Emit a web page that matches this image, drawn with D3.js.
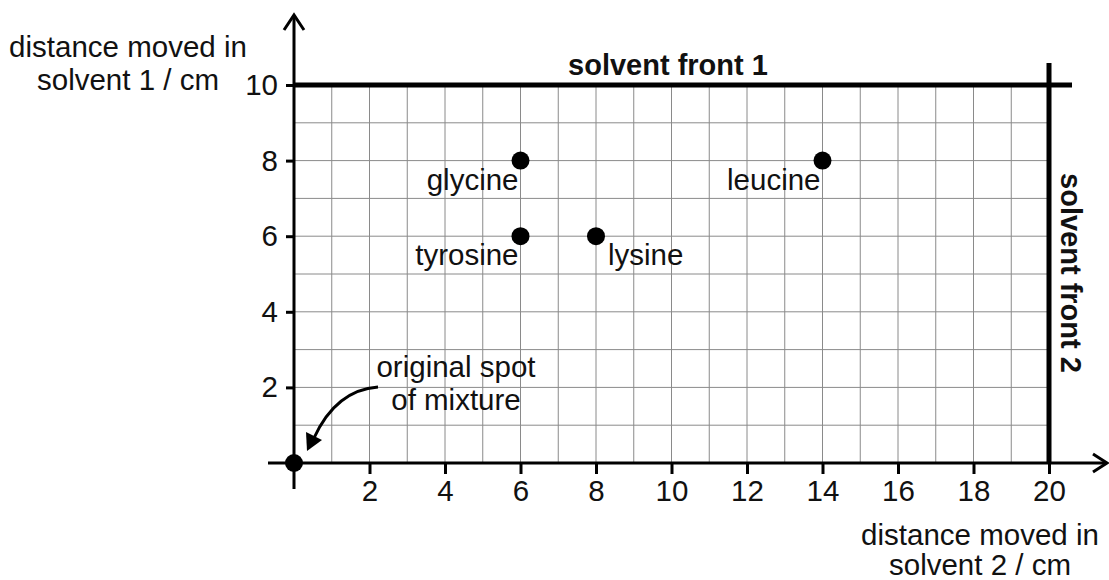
<!DOCTYPE html>
<html>
<head>
<meta charset="utf-8">
<script src="https://cdn.jsdelivr.net/npm/d3@7"></script>
<style>
  body { margin: 0; background: #fff; }
  svg { display: block; }
  text { font-family: "Liberation Sans", Arial, sans-serif; fill: #111; }
</style>
</head>
<body>
<svg id="chart" width="1109" height="580"></svg>
<script>
// amino acid spots (distance in solvent 2, distance in solvent 1)
const acids = ['glycine', 'tyrosine', 'lysine', 'leucine']
const solvent2 = [6, 6, 8, 14]
const solvent1 = [8, 6, 6, 8]
const labelSide = ['left', 'left', 'right', 'left']

const xTicks = [2, 4, 6, 8, 10, 12, 14, 16, 18, 20]
const yTicks = [2, 4, 6, 8, 10]
const gridX = d3.range(1, 20)
const gridY = d3.range(1, 10)

const front1 = 10
const front2 = 20

const svg = d3.select('#chart')
const x = d3.scaleLinear().domain([0, 20]).range([294, 1049])
const y = d3.scaleLinear().domain([0, 10]).range([463, 85])

const FS = 29.5

// grid
svg.append('g')
  .selectAll('line')
  .data(gridX)
  .join('line')
  .attr('x1', d => x(d)).attr('x2', d => x(d))
  .attr('y1', y(0)).attr('y2', y(10))
  .attr('stroke', '#8a8a8a').attr('stroke-width', 1)

svg.append('g')
  .selectAll('line')
  .data(gridY)
  .join('line')
  .attr('x1', x(0)).attr('x2', x(20))
  .attr('y1', d => y(d)).attr('y2', d => y(d))
  .attr('stroke', '#8a8a8a').attr('stroke-width', 1)

// axes with d3 ticks
let yAxis = svg.append('g')
  .attr('transform', `translate(${x(0)},0)`)
  .call(d3.axisLeft(y).tickValues(yTicks).tickSize(8).tickPadding(8))
yAxis.select('.domain').remove()
yAxis.selectAll('line').attr('stroke', '#000').attr('stroke-width', 3)
yAxis.selectAll('text').attr('font-size', FS).attr('font-family', null).attr('fill', '#111')

let xAxis = svg.append('g')
  .attr('transform', `translate(0,${y(0)})`)
  .call(d3.axisBottom(x).tickValues(xTicks).tickSize(11).tickPadding(6))
xAxis.select('.domain').remove()
xAxis.selectAll('line').attr('stroke', '#000').attr('stroke-width', 3)
xAxis.selectAll('text').attr('font-size', FS).attr('font-family', null).attr('fill', '#111')

// main axis lines with arrows
svg.append('line')
  .attr('x1', x(0)).attr('x2', x(0))
  .attr('y1', 489).attr('y2', 15)
  .attr('stroke', '#000').attr('stroke-width', 3)
svg.append('path')
  .attr('d', `M${x(0) - 10},30 L${x(0)},15 L${x(0) + 10},30`)
  .attr('fill', 'none').attr('stroke', '#000').attr('stroke-width', 3)

svg.append('line')
  .attr('x1', 268).attr('x2', 1106)
  .attr('y1', y(0)).attr('y2', y(0))
  .attr('stroke', '#000').attr('stroke-width', 3)
svg.append('path')
  .attr('d', `M1093,${y(0) - 9} L1107,${y(0)} L1093,${y(0) + 9}`)
  .attr('fill', 'none').attr('stroke', '#000').attr('stroke-width', 3)

// solvent fronts
svg.append('line')
  .attr('x1', x(0)).attr('x2', 1072)
  .attr('y1', y(front1)).attr('y2', y(front1))
  .attr('stroke', '#000').attr('stroke-width', 5)
svg.append('line')
  .attr('x1', x(front2)).attr('x2', x(front2))
  .attr('y1', 63).attr('y2', y(0))
  .attr('stroke', '#000').attr('stroke-width', 5)

svg.append('text')
  .attr('x', 668).attr('y', 75)
  .attr('text-anchor', 'middle')
  .attr('font-size', 29).attr('font-weight', 'bold')
  .text('solvent front 1')
svg.append('text')
  .attr('transform', `translate(1061,273) rotate(90)`)
  .attr('text-anchor', 'middle')
  .attr('font-size', 29).attr('font-weight', 'bold')
  .text('solvent front 2')

// axis titles
const yTitle = svg.append('text').attr('text-anchor', 'middle').attr('font-size', FS)
yTitle.append('tspan').attr('x', 128).attr('y', 57).text('distance moved in')
yTitle.append('tspan').attr('x', 128).attr('y', 90).text('solvent 1 / cm')

const xTitle = svg.append('text').attr('text-anchor', 'middle').attr('font-size', FS)
xTitle.append('tspan').attr('x', 980).attr('y', 545).text('distance moved in')
xTitle.append('tspan').attr('x', 980).attr('y', 575).text('solvent 2 / cm')

// spots
const spots = acids.map((name, i) => ({ name, sx: solvent2[i], sy: solvent1[i], side: labelSide[i] }))

svg.append('g')
  .selectAll('circle')
  .data(spots)
  .join('circle')
  .attr('cx', d => x(d.sx)).attr('cy', d => y(d.sy))
  .attr('r', 9).attr('fill', '#000')

svg.append('g')
  .selectAll('text')
  .data(spots)
  .join('text')
  .attr('font-size', FS)
  .attr('text-anchor', d => d.side === 'left' ? 'end' : 'start')
  .attr('x', d => d.side === 'left' ? x(d.sx) - 2 : x(d.sx) + 12)
  .attr('y', d => y(d.sy) + 29)
  .text(d => d.name)

// original spot
svg.append('circle')
  .attr('cx', x(0)).attr('cy', y(0))
  .attr('r', 9).attr('fill', '#000')

const orig = svg.append('text').attr('text-anchor', 'middle').attr('font-size', FS)
orig.append('tspan').attr('x', 456).attr('y', 377).text('original spot')
orig.append('tspan').attr('x', 456).attr('y', 410).text('of mixture')

svg.append('path')
  .attr('d', 'M378,387 Q336,390 314,438')
  .attr('fill', 'none').attr('stroke', '#000').attr('stroke-width', 3)
svg.append('path')
  .attr('d', 'M307,451 L306,432 L322,440 Z')
  .attr('fill', '#000')
</script>
</body>
</html>
